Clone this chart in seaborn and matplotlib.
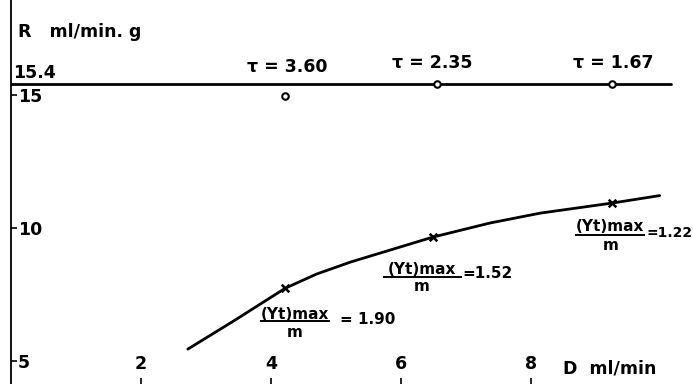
import matplotlib
matplotlib.use("Agg")
import matplotlib.pyplot as plt
import seaborn as sns

sns.set_theme(style="white")
plt.rcParams['font.family'] = ['Liberation Sans Narrow', 'DejaVu Sans']
plt.rcParams['text.color'] = 'black'
plt.rcParams['font.weight'] = 'bold'

# ---- data ----
curve_D = [2.72, 3.42, 4.22, 4.70, 5.22, 6.49, 7.37, 8.14, 9.25, 9.98]
curve_R = [5.45, 6.50, 7.74, 8.27, 8.72, 9.66, 10.19, 10.56, 10.94, 11.22]

yt_D = [4.22, 6.49, 9.25]
yt_R = [7.74, 9.66, 10.94]
yt_labels = ["= 1.90", "=1.52", "=1.22"]

tau_D = [4.22, 6.55, 9.25]
tau_R = [14.95, 15.4, 15.4]
tau_labels = ["\u03c4 = 3.60", "\u03c4 = 2.35", "\u03c4 = 1.67"]

rmax_D = [0.0, 10.15]
rmax_R = [15.4, 15.4]

x_ticks = [2, 4, 6, 8]
y_ticks = [5, 10, 15]

# ---- figure ----
fig = plt.figure(figsize=(6.93, 3.84), dpi=100)
ax = fig.add_axes([11 / 693, 0, 682 / 693, 1])

sns.lineplot(x=curve_D, y=curve_R, ax=ax, color="black", lw=2.0, sort=True)
sns.lineplot(x=rmax_D, y=rmax_R, ax=ax, color="black", lw=2.0)
sns.scatterplot(x=yt_D, y=yt_R, ax=ax, marker="x", color="black", s=30,
                linewidth=1.8, zorder=5)
sns.scatterplot(x=tau_D, y=tau_R, ax=ax, marker="o", facecolor="white",
                edgecolor="black", s=22, linewidth=1.5, zorder=5)

ax.set_xlim(0, 682 / 65)
ax.set_ylim(4.14, 18.57)

for s in ["top", "right", "bottom"]:
    ax.spines[s].set_visible(False)
ax.spines["left"].set_color("black")
ax.spines["left"].set_linewidth(1.3)

fs = 12.5
ax.set_xticks(x_ticks)
ax.set_xticklabels([str(v) for v in x_ticks])
ax.set_yticks(y_ticks)
ax.set_yticklabels([str(v) for v in y_ticks])
ax.tick_params(axis="x", direction="in", length=4, width=1.2, color="black",
               bottom=True, pad=-8, labelsize=fs, labelcolor="black")
ax.tick_params(axis="y", direction="in", length=4, width=1.2, color="black",
               left=True, pad=-5, labelsize=fs, labelcolor="black")
plt.setp(ax.get_xticklabels(), va="bottom", fontweight="bold")
plt.setp(ax.get_yticklabels(), ha="left", fontweight="bold")

# ---- annotations ----
ax.text(0.11, 17.37, "R   ml/min. g", fontsize=fs, ha="left", va="center")
ax.text(0.03, 15.83, "15.4", fontsize=fs, ha="left", va="center")
ax.text(8.49, 4.74, "D  ml/min", fontsize=fs, ha="left", va="center")

tau_pos = [(3.63, 16.05), (5.86, 16.2), (8.65, 16.2)]
for (tx, ty), lab in zip(tau_pos, tau_labels):
    ax.text(tx, ty, lab, fontsize=fs, ha="left", va="center")

frac = [  # numerator centre x, numerator y, bar x0, bar x1, bar y, m y, eq x, eq y
    (4.37, 6.77, 3.83, 4.91, 6.50, 6.09, 5.06, 6.58),
    (6.32, 8.46, 5.72, 6.94, 8.16, 7.82, 6.94, 8.31),
    (9.22, 10.04, 8.68, 9.75, 9.74, 9.36, 9.77, 9.81),
]
fs2 = 11
for (cx, ny, b0, b1, by, my, ex, ey), lab in zip(frac, yt_labels):
    ax.text(cx, ny, "(Yt)max", fontsize=fs2, ha="center", va="center")
    ax.hlines(by, b0, b1, color="black", lw=1.4)
    ax.text(cx, my, "m", fontsize=fs2, ha="center", va="center")
    ax.text(ex, ey, lab, fontsize=fs2 if lab != "=1.22" else 10, ha="left",
            va="center")

fig.savefig("out.png", dpi=100)
